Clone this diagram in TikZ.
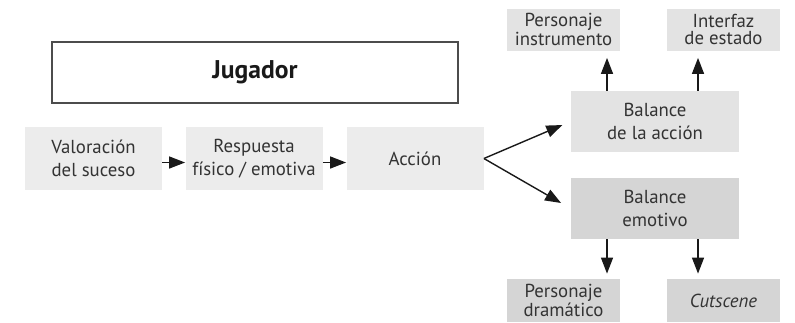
\documentclass[tikz,border=0pt]{standalone}
\usepackage{fontspec}
\setmainfont{PT Sans}
\usepackage{tikz}
\usetikzlibrary{arrows.meta,positioning,calc}
\definecolor{boxlight}{HTML}{ECECEC}
\definecolor{boxmid}{HTML}{E3E3E3}
\definecolor{boxdark}{HTML}{D5D5D5}
\definecolor{textgray}{HTML}{333333}

\begin{document}
\begin{tikzpicture}[x=0.5pt,y=-0.5pt,font=\fontsize{9.4}{11.5}\selectfont,
    box/.style={fill=boxlight, text=textgray, align=center, inner sep=0pt, minimum width=68.5pt, minimum height=31.5pt},
    bigbox/.style={box, minimum width=84pt, minimum height=30.5pt},
    smallbox/.style={box, font=\fontsize{9.4}{8.6}\selectfont, minimum width=56.5pt, minimum height=21pt},
    arr/.style={-{Triangle[length=8pt,width=6pt]}, line width=0.7pt, draw=black!90}]
    \useasboundingbox (0,0) rectangle (795,322);

    % Jugador
    \node [draw=black!70, line width=0.7pt, rectangle, minimum width=203pt, minimum height=30.5pt, inner sep=0pt, font=\fontsize{12.8}{15}\selectfont\bfseries, text=black!90] (jug) at (255,72.5) {Jugador};

    % cadena de la accion
    \node [box] (val) at (93.5,158.5) {Valoración\\del suceso};
    \node [box] (resp) at (254,158.5) {Respuesta\\físico / emotiva};
    \node [box] (acc) at (415,158.5) {Acción};
    \draw [arr] ([yshift=-2pt]val.east) -- ([yshift=-2pt]resp.west);
    \draw [arr] ([yshift=-2pt]resp.east) -- ([yshift=-2pt]acc.west);

    % balances
    \node [bigbox, fill=boxmid] (bacc) at (655,121.5) {Balance\\de la acción};
    \node [bigbox, fill=boxdark] (bemo) at (655,208.5) {Balance\\emotivo};
    \draw [arr, shorten >=4.5pt] (acc.east) -- (bacc.west);
    \draw [arr, shorten >=5.5pt] (acc.east) -- (bemo.west);

    % arriba
    \node [smallbox, fill=boxmid] (pins) at (563.5,29.5) {Personaje\\instrumento};
    \node [smallbox, fill=boxmid] (intf) at (723.5,29.5) {Interfaz\\de estado};
    \draw [arr, shorten >=3.5pt] ([xshift=-24pt]bacc.north) -- ([xshift=-24pt]bacc.north |- pins.south);
    \draw [arr, shorten >=3.5pt] ([xshift=21.5pt]bacc.north) -- ([xshift=21.5pt]bacc.north |- intf.south);

    % abajo
    \node [smallbox, fill=boxdark, minimum height=21.5pt] (pdra) at (563.5,300.5) {Personaje\\dramático};
    \node [smallbox, fill=boxdark, minimum height=21.5pt] (cuts) at (723.5,300.5) {\itshape Cutscene};
    \draw [arr, shorten >=2.5pt] ([xshift=-24pt]bemo.south) -- ([xshift=-24pt]bemo.south |- pdra.north);
    \draw [arr, shorten >=2.5pt] ([xshift=21.5pt]bemo.south) -- ([xshift=21.5pt]bemo.south |- cuts.north);

\end{tikzpicture}
\end{document}
